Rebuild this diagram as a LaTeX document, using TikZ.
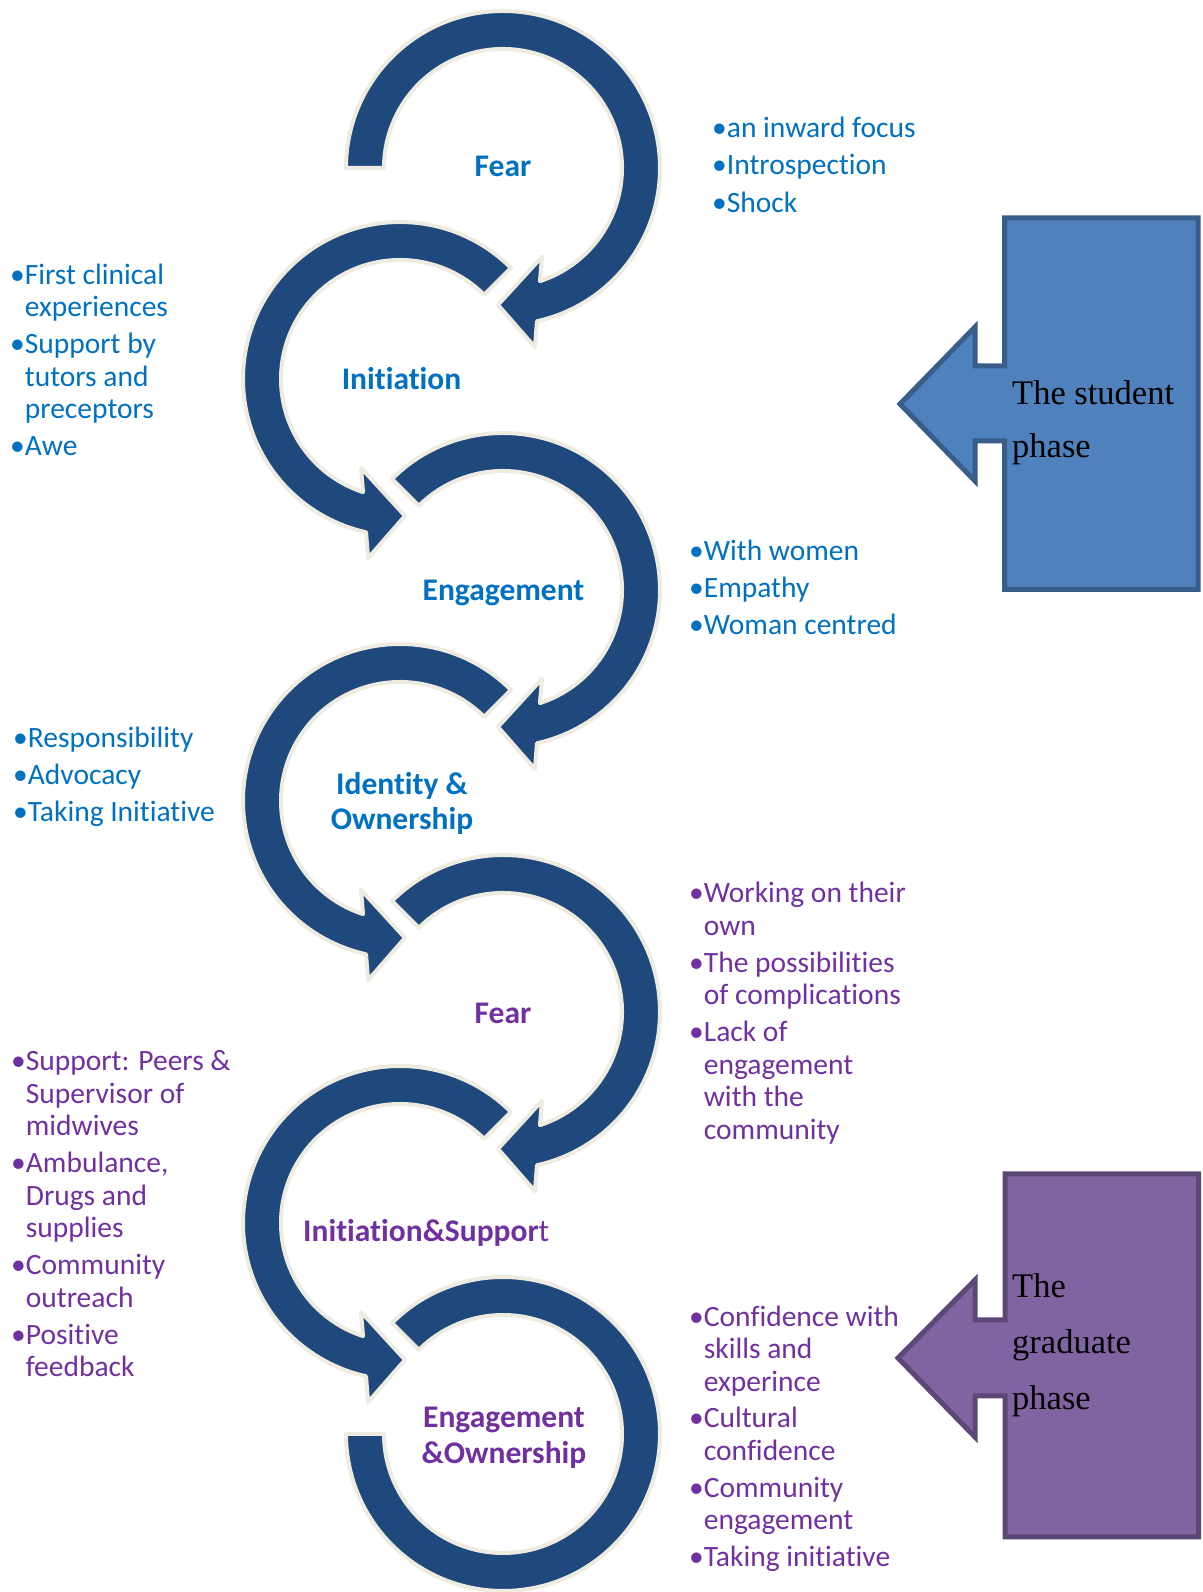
\documentclass[tikz,border=0pt]{standalone}
\usepackage{fontspec}
\setmainfont{Carlito}[Ligatures={NoCommon}]
\newfontfamily\phasefont{Liberation Serif}

\definecolor{ringblue}{HTML}{1F497D}
\definecolor{ringedge}{HTML}{EEECE1}
\definecolor{txtblue}{HTML}{0070C0}
\definecolor{txtpurple}{HTML}{7030A0}
\definecolor{stufill}{HTML}{4F81BD}
\definecolor{studraw}{HTML}{385D8A}
\definecolor{gradfill}{HTML}{8064A2}
\definecolor{graddraw}{HTML}{5C4776}

\tikzset{
  ring/.style={fill=ringblue, draw=ringedge, line width=4pt, line join=round},
  % clockwise circular arrow around the origin, tail cut at angle #1
  cwarrow/.style={insert path={
    (#1:157) arc[start angle=#1, end angle=-77.5, radius=157]
    -- (-79.9:182) -- (-92.1:137) -- (-66.3:97) -- (-71.9:119)
    arc[start angle=-71.9, end angle=#1, radius=119] -- cycle}},
  % closing ring without a head
  lastring/.style={insert path={
    (135:157) arc[start angle=135, end angle=-180, radius=157]
    -- (180:119) arc[start angle=-180, end angle=135, radius=119] -- cycle}},
  stagelbl/.style={font=\fontsize{31.5}{35}\selectfont\bfseries, inner sep=0pt, anchor=base},
  blist/.style={font=\fontsize{29.5}{32.5}\selectfont, inner sep=0pt, anchor=base west},
  phasebox/.style={line width=5pt, line join=miter},
  phasetxt/.style={inner sep=0pt, anchor=base west}
}

\begin{document}
\begin{tikzpicture}[x=1pt, y=1pt]
\useasboundingbox (0,0) rectangle (1202,1592);

% ---- the chain of circular arrows ----
\begin{scope}[shift={(503,1424)}]
  \draw[ring, cwarrow=180];
\end{scope}
\begin{scope}[shift={(400,1213)}, xscale=-1]
  \draw[ring, cwarrow=135];
\end{scope}
\begin{scope}[shift={(503,1002)}]
  \draw[ring, cwarrow=135];
\end{scope}
\begin{scope}[shift={(400,791)}, xscale=-1]
  \draw[ring, cwarrow=135];
\end{scope}
\begin{scope}[shift={(503,580)}]
  \draw[ring, cwarrow=135];
\end{scope}
\begin{scope}[shift={(400,369)}, xscale=-1]
  \draw[ring, cwarrow=135];
\end{scope}
\begin{scope}[shift={(503,158)}]
  \draw[ring, lastring];
\end{scope}

% ---- stage labels ----
\node[stagelbl, text=txtblue] (fearA) at (503,1415) {Fear};
\node[stagelbl, text=txtblue] (initA) at (401.5,1202) {Initiation};
\node[stagelbl, text=txtblue] (engA) at (503.5,991) {Engagement};
\node[stagelbl, text=txtblue] (ident) at (402,797)
  {\begin{tabular}[t]{@{}c@{}}Identity \&\\Ownership\end{tabular}};
\node[stagelbl, text=txtpurple] (fearB) at (503,568) {Fear};
\node[stagelbl, text=txtpurple, anchor=base west] (initB) at (303,350)
  {Initiation\&Suppor\textmd{t}};
\node[stagelbl, text=txtpurple, font=\fontsize{31.5}{36}\selectfont\bfseries] (engB) at (504,164)
  {\begin{tabular}[t]{@{}c@{}}Engagement\\\&Ownership\end{tabular}};

% ---- bullet lists ----
\node[blist, text=txtblue] (listA) at (712,1454.5)
  {\begin{tabular}[t]{@{}l@{}l@{}}•&an inward focus\\[5pt]•&Introspection\\[5pt]•&Shock\end{tabular}};
\node[blist, text=txtblue] (listB) at (10,1307.5)
  {\begin{tabular}[t]{@{}l@{}l@{}}•&First clinical\\&experiences\\[4.5pt]•&Support by\\&tutors and\\&preceptors\\[4.5pt]•&Awe\end{tabular}};
\node[blist, text=txtblue] (listC) at (689,1031.5)
  {\begin{tabular}[t]{@{}l@{}l@{}}•&With women\\[5pt]•&Empathy\\[4pt]•&Woman centred\end{tabular}};
\node[blist, text=txtblue] (listD) at (13,844.5)
  {\begin{tabular}[t]{@{}l@{}l@{}}•&Responsibility\\[5pt]•&Advocacy\\[4pt]•&Taking Initiative\end{tabular}};
\node[blist, text=txtpurple] (listE) at (689,689)
  {\begin{tabular}[t]{@{}l@{}l@{}}•&Working on their\\&own\\[4.5pt]•&The possibilities\\&of complications\\[4.5pt]•&Lack of\\&engagement\\&with the\\&community\end{tabular}};
\node[blist, text=txtpurple] (listF) at (11,521)
  {\begin{tabular}[t]{@{}l@{}l@{}}•&Support: Peers \&\\&Supervisor of\\&midwives\\[4.5pt]•&Ambulance,\\&Drugs and\\&supplies\\[4.5pt]•&Community\\&outreach\\[4.5pt]•&Positive\\&feedback\end{tabular}};
\node[blist, text=txtpurple] (listG) at (689,265.5)
  {\begin{tabular}[t]{@{}l@{}l@{}}•&Confidence with\\&skills and\\&experince\\[4pt]•&Cultural\\&confidence\\[4.5pt]•&Community\\&engagement\\[4.5pt]•&Taking initiative\end{tabular}};

% ---- phase callouts ----
\draw[phasebox, fill=stufill, draw=studraw]
  (1004.5,1374) -- (1198,1374) -- (1198,1002.5) -- (1004.5,1002.5)
  -- (1004.5,1151) -- (975,1151) -- (975,1111) -- (900,1188)
  -- (975,1265) -- (975,1226) -- (1004.5,1226) -- cycle;
\node[phasetxt, font=\phasefont\fontsize{34.5}{53}\selectfont] (stuTxt) at (1012,1187)
  {\begin{tabular}[t]{@{}l@{}}The student\\phase\end{tabular}};

\draw[phasebox, fill=gradfill, draw=graddraw]
  (1005,418) -- (1198.5,418) -- (1198.5,55) -- (1005,55)
  -- (1005,196) -- (975,196) -- (975,155) -- (898,234)
  -- (975,312) -- (975,272) -- (1005,272) -- cycle;
\node[phasetxt, font=\phasefont\fontsize{34.5}{56}\selectfont] (gradTxt) at (1012,294)
  {\begin{tabular}[t]{@{}l@{}}The\\graduate\\phase\end{tabular}};
\end{tikzpicture}
\end{document}
